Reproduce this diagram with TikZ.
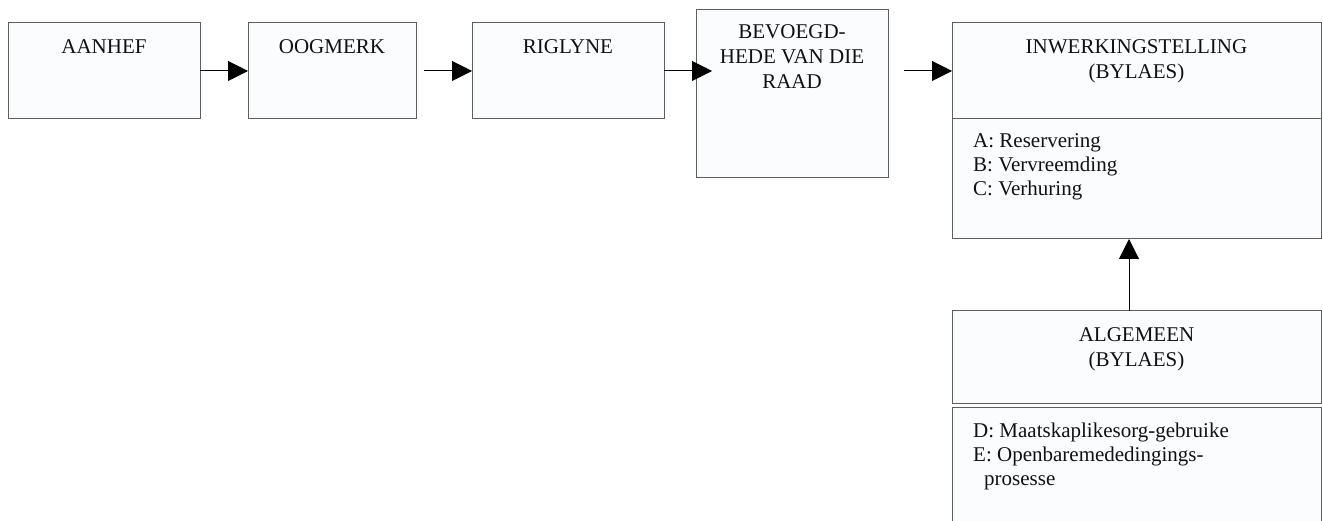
\documentclass[tikz,border=0pt]{standalone}
\usepackage{fontspec}
\setmainfont{Liberation Serif}
\usepackage{tikz}
\usetikzlibrary{arrows.meta,positioning,calc}
\definecolor{randgrys}{HTML}{5E5E5E}
\definecolor{vulblou}{HTML}{FBFCFE}
\definecolor{teks}{HTML}{111111}
\tikzset{
  blok/.style={
    rectangle, draw=randgrys, fill=vulblou, line width=1pt,
    minimum width=#1, outer sep=0pt, inner sep=0pt
  },
  blok/.default=192pt,
  kop/.style={inner sep=0pt, align=center, text=teks,
    font=\fontsize{21pt}{25pt}\selectfont},
  lys/.style={inner sep=0pt, align=left, text=teks,
    font=\fontsize{21pt}{24pt}\selectfont},
  pyl/.style={
    -{Triangle[length=20pt,width=20pt]}, line width=1pt, color=black
  },
}

\begin{document}
\begin{tikzpicture}[x=1pt, y=-1pt, node distance=48pt and 48pt]
  \useasboundingbox (0,0) rectangle (1323,521);
  \clip (0,0) rectangle (1323,521);
  \node[blok, minimum height=96pt, anchor=north west] at (8,23) (aanhef) {};
  \node[blok=168pt, minimum height=96pt, right=48pt of aanhef] (oogmerk) {};
  \node[blok, minimum height=96pt, right=56pt of oogmerk] (riglyne) {};
  \node[blok, minimum height=168pt, anchor=north west] at (696,10) (bevoeg) {};
  \node[blok=369pt, minimum height=96pt, anchor=north west] at (952,23) (inwerk) {};
  \node[blok=369pt, minimum height=120pt, below=0pt of inwerk] (lysabc) {};
  \node[blok=369pt, minimum height=92pt, below=72pt of lysabc] (algemeen) {};
  \node[blok=369pt, minimum height=140pt, below=4pt of algemeen] (lysde) {};
  \node[kop, below=13pt of aanhef.north] (t-aanhef) {\strut AANHEF};
  \node[kop, below=13pt of oogmerk.north] (t-oogmerk) {\strut OOGMERK};
  \node[kop, below=13pt of riglyne.north] (t-riglyne) {\strut RIGLYNE};
  \node[kop, below=11pt of bevoeg.north] (t-bevoeg) {\strut BEVOEGD-\\\strut HEDE VAN DIE\\\strut RAAD};
  \node[kop, below=12.5pt of inwerk.north] (t-inwerk) {\strut INWERKINGSTELLING\\\strut (BYLAES)};
  \node[kop, below=13pt of algemeen.north] (t-algemeen) {\strut ALGEMEEN\\\strut (BYLAES)};
  \node[lys, below right=12pt and 21pt of lysabc.north west] (t-abc) {\strut A: Reservering\\\strut B: Vervreemding\\\strut C: Verhuring};
  \node[lys, below right=13pt and 21pt of lysde.north west] (t-de) {\strut D: Maatskaplikesorg-gebruike\\\strut E: Openbaremededingings-\\\hspace*{11pt}\strut prosesse};
  \draw[pyl] (aanhef) -- (oogmerk);
  \draw[pyl] ($(oogmerk.east)+(8,0)$) -- (riglyne);
  \draw[pyl] (riglyne) -- ($(riglyne.east -| bevoeg.west)+(16,0)$);
  \draw[pyl] ($(riglyne.east -| bevoeg.east)+(16,0)$) -- (inwerk);
  \draw[pyl] ($(algemeen.north)+(-7.5,0)$) -- ($(lysabc.south)+(-7.5,0)$);
\end{tikzpicture}
\end{document}
